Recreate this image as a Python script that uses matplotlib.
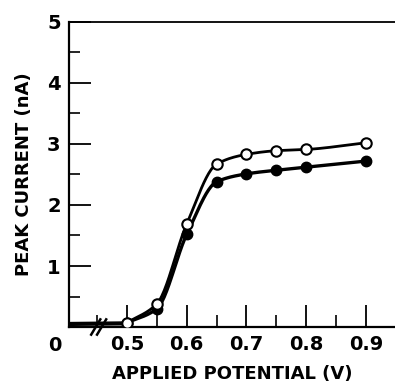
import numpy as np
import matplotlib.pyplot as plt
from matplotlib.ticker import MultipleLocator

# --- data ---
potential = [0.5, 0.55, 0.6, 0.65, 0.7, 0.75, 0.8, 0.9]
current_open = [0.07, 0.38, 1.69, 2.67, 2.83, 2.89, 2.91, 3.02]
current_filled = [0.07, 0.30, 1.52, 2.38, 2.51, 2.57, 2.62, 2.72]
baseline_v = [0.403, 0.5]
baseline_i = [0.05, 0.06]
xticks = [0.5, 0.6, 0.7, 0.8, 0.9]
xticklabels = ['0.5', '0.6', '0.7', '0.8', '0.9']
yticks = [1, 2, 3, 4, 5]


def smooth(x, y, n=200):
    # monotone cubic (pchip-like) curve through the points, for drawing only
    x = np.asarray(x, float)
    y = np.asarray(y, float)
    h = np.diff(x)
    d = np.diff(y) / h
    m = np.zeros_like(y)
    for k in range(1, len(x) - 1):
        if d[k - 1] * d[k] > 0:
            w1 = 2 * h[k] + h[k - 1]
            w2 = h[k] + 2 * h[k - 1]
            m[k] = (w1 + w2) / (w1 / d[k - 1] + w2 / d[k])
    m[0] = d[0]
    m[-1] = d[-1]
    xs = np.linspace(x[0], x[-1], n)
    idx = np.clip(np.searchsorted(x, xs) - 1, 0, len(h) - 1)
    t = (xs - x[idx]) / h[idx]
    h00 = 2 * t**3 - 3 * t**2 + 1
    h10 = t**3 - 2 * t**2 + t
    h01 = -2 * t**3 + 3 * t**2
    h11 = t**3 - t**2
    ys = h00 * y[idx] + h10 * h[idx] * m[idx] + h01 * y[idx + 1] + h11 * h[idx] * m[idx + 1]
    return xs, ys


plt.rcParams['font.family'] = ['DejaVu Sans']
plt.rcParams['font.weight'] = 'bold'

fig = plt.figure(figsize=(3.95, 3.83), dpi=100)
ax = fig.add_axes([0.1747, 0.1462, 0.8253, 0.7964])

ax.plot(baseline_v, baseline_i, color='black', lw=3.0, solid_capstyle='butt', clip_on=False)

xs, ys = smooth(potential, current_filled)
ax.plot(xs, ys, color='black', lw=2.4)
xs, ys = smooth(potential, current_open)
ax.plot(xs, ys, color='black', lw=2.0)

ax.plot(potential, current_filled, 'o', color='black', ms=7.5, zorder=4)
ax.plot(potential, current_open, 'o', mfc='white', mec='black', mew=1.5, ms=7.5, zorder=5)

ax.set_xlim(0.403, 0.9485)
ax.set_ylim(0, 5)

ax.spines['right'].set_visible(False)
ax.spines['left'].set_linewidth(1.6)
ax.spines['bottom'].set_linewidth(1.6)
ax.spines['top'].set_linewidth(1.3)

ax.set_xticks(xticks)
ax.set_xticklabels(xticklabels)
ax.xaxis.set_minor_locator(MultipleLocator(0.05))
ax.set_yticks(yticks)
ax.yaxis.set_minor_locator(MultipleLocator(0.5))
ax.tick_params(which='major', direction='in', length=16, width=1.3, labelsize=14, pad=6)
ax.tick_params(which='minor', direction='in', length=8, width=1.2)
ax.tick_params(axis='x', which='both', top=False)
ax.tick_params(axis='y', which='both', right=False)
ax.tick_params(axis='x', which='minor', length=9)

# origin label and axis-break marks
ax.text(-0.045, -0.028, '0', transform=ax.transAxes, ha='center', va='top', fontsize=14, fontweight='bold')
for dx in (0.082, 0.100):
    ax.plot([dx - 0.014, dx + 0.014], [-0.025, 0.025], transform=ax.transAxes,
            color='black', lw=1.8, clip_on=False, zorder=6)

ax.set_xlabel('APPLIED POTENTIAL (V)', fontsize=13, fontweight='bold', labelpad=8)
ax.set_ylabel('PEAK CURRENT (nA)', fontsize=13, fontweight='bold', labelpad=10)

plt.savefig('out.png', dpi=100)
